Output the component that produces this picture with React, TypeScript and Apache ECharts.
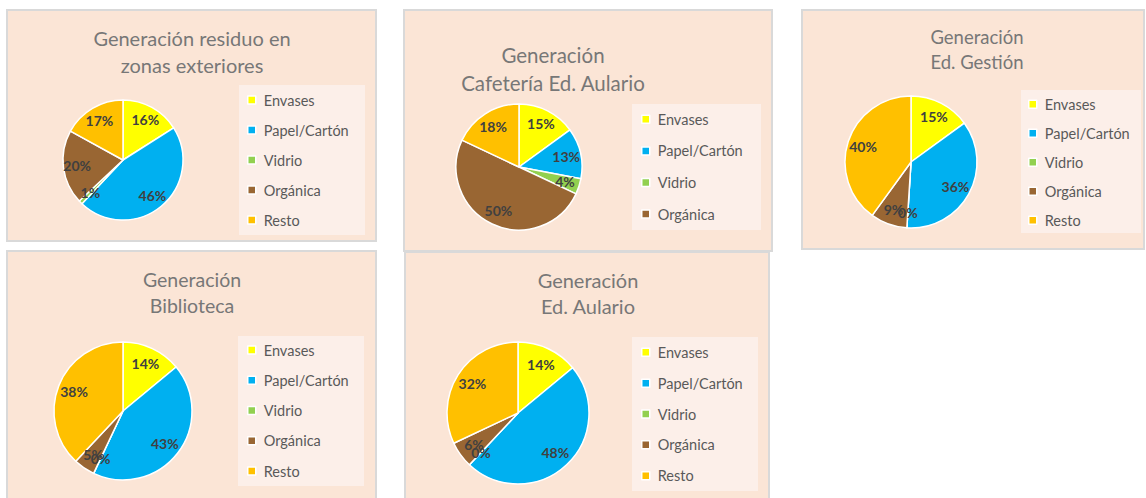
import React, { useEffect, useRef } from 'react';
import * as echarts from 'echarts';

// ---- data ----
const categories = ['Envases', 'Papel/Cartón', 'Vidrio', 'Orgánica', 'Resto'];
const colors = ['#FFFF00', '#00B0F0', '#92D050', '#996633', '#FFC000'];

const titles = [
  'Generación residuo en\nzonas exteriores',
  'Generación\nCafetería Ed. Aulario',
  'Generación\nEd. Gestión',
  'Generación\nBiblioteca',
  'Generación\nEd. Aulario',
];

const exteriores = [16, 46, 1, 20, 17];
const cafeteria = [15, 13, 4, 50, 18];
const gestion = [15, 36, 0, 9, 40];
const biblioteca = [14, 43, 0, 5, 38];
const aulario = [14, 48, 0, 6, 32];

const panelValues = [exteriores, cafeteria, gestion, biblioteca, aulario];
const legendCounts = [5, 4, 5, 5, 5];

// ---- layout (pixels) ----
const layouts = [
  { box: [7, 10, 369, 231], lbox: [239, 85, 126, 150], lg: { left: 247, top: 92, gap: 14 }, pie: [123, 160, 60], title: { x: 192, top: 24, lh: 27, fs: 20 } },
  { box: [404, 10, 368, 241], lbox: [632, 104, 129, 126], lg: { left: 641, top: 111.3, gap: 15.6 }, pie: [519, 167, 63], title: { x: 553, top: 40.5, lh: 28, fs: 20.5 } },
  { box: [802, 10, 342, 239], lbox: [1021, 90, 120, 143], lg: { left: 1028, top: 96.3, gap: 13 }, pie: [911, 162, 66], title: { x: 977, top: 24, lh: 25, fs: 18.5 } },
  { box: [7, 251, 369, 260], lbox: [238, 336, 126, 150], lg: { left: 247, top: 342, gap: 14.25 }, pie: [123, 411, 69], title: { x: 192, top: 266.5, lh: 26, fs: 19.5 } },
  { box: [405, 252, 364, 260], lbox: [632, 337, 126, 154], lg: { left: 641, top: 344.3, gap: 14.85 }, pie: [518, 413, 71], title: { x: 588, top: 266.5, lh: 26, fs: 20 } },
];

const FONT = 'Lato, "Open Sans", sans-serif';

export default function App() {
  const ref = useRef<HTMLDivElement>(null);

  useEffect(() => {
    if (!ref.current) return;
    const chart = echarts.init(ref.current, undefined, { renderer: 'svg' });

    const graphics: any[] = [];
    layouts.forEach((l) => {
      graphics.push({
        type: 'rect',
        shape: { x: l.box[0], y: l.box[1], width: l.box[2], height: l.box[3] },
        style: { fill: '#FBE5D6', stroke: '#D9D9D9', lineWidth: 2 },
        silent: true,
        z: -10,
      });
    });
    layouts.forEach((l) => {
      graphics.push({
        type: 'rect',
        shape: { x: l.lbox[0], y: l.lbox[1], width: l.lbox[2], height: l.lbox[3] },
        style: { fill: '#FCEFE9' },
        silent: true,
        z: -9,
      });
    });

    const makeData = (vals: number[]) =>
      categories.map((name, j) => ({ name, value: vals[j], itemStyle: { color: colors[j] } }));

    const mainSeries = layouts.map((l, i) => ({
      type: 'pie',
      name: 'main' + i,
      center: [l.pie[0], l.pie[1]],
      radius: l.pie[2],
      startAngle: 90,
      clockwise: true,
      silent: true,
      data: makeData(panelValues[i]),
      itemStyle: { borderColor: '#FFFFFF', borderWidth: 1.5 },
      label: { show: false },
      labelLine: { show: false },
    }));

    // transparent carrier ring so that the labels sit at ~0.72 of the radius;
    // a zero share gets a thin angle so its "0%" label is still placed.
    const labelSeries = layouts.map((l, i) => ({
      type: 'pie',
      name: 'label' + i,
      center: [l.pie[0], l.pie[1]],
      radius: [l.pie[2] * 0.44, l.pie[2]],
      startAngle: 90,
      clockwise: true,
      silent: true,
      z: 3,
      minShowLabelAngle: 0,
      avoidLabelOverlap: false,
      data: categories.map((name, j) => ({
        name,
        value: panelValues[i][j] === 0 ? 0.3 : panelValues[i][j],
      })),
      itemStyle: { color: 'rgba(0,0,0,0)', borderWidth: 0 },
      labelLayout: { hideOverlap: false },
      label: {
        show: true,
        position: 'inside',
        formatter: (p: any) => panelValues[i][p.dataIndex] + '%',
        fontFamily: FONT,
        fontSize: 14,
        fontWeight: 'bold',
        color: '#404040',
        textBorderWidth: 0,
      },
      labelLine: { show: false },
    }));

    chart.setOption({
      animation: false,
      backgroundColor: '#FFFFFF',
      textStyle: { fontFamily: FONT },
      title: layouts.map((l, i) => ({
        text: titles[i],
        left: l.title.x,
        top: l.title.top,
        padding: 0,
        textAlign: 'center',
        textVerticalAlign: 'top',
        textStyle: {
          fontFamily: FONT,
          fontSize: l.title.fs,
          fontWeight: 'normal',
          color: '#777777',
          lineHeight: l.title.lh,
        },
      })),
      legend: layouts.map((l, i) => ({
        orient: 'vertical',
        left: l.lg.left,
        top: l.lg.top,
        padding: 0,
        itemGap: l.lg.gap,
        itemWidth: 8,
        itemHeight: 8,
        icon: 'rect',
        selectedMode: false,
        data: categories.slice(0, legendCounts[i]),
        itemStyle: { borderColor: '#FFFFFF', borderWidth: 1.5 },
        textStyle: {
          fontFamily: FONT,
          fontSize: 14.5,
          color: '#595959',
          lineHeight: 16,
          padding: [0, 0, 0, 3],
        },
      })),
      graphic: graphics,
      series: [...mainSeries, ...labelSeries],
    });

    return () => chart.dispose();
  }, []);

  return (
    <div
      ref={ref}
      style={{ position: 'absolute', left: 0, top: 0, width: 1146, height: 498 }}
    />
  );
}
